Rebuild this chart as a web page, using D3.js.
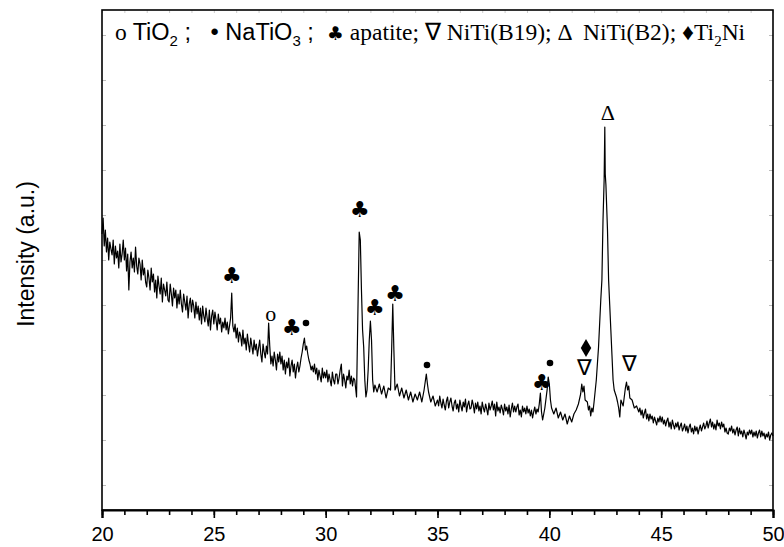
<!DOCTYPE html>
<html>
<head>
<meta charset="utf-8">
<script src="https://cdn.jsdelivr.net/npm/d3@7"></script>
<style>
  body { margin: 0; background: #fff; }
  text { white-space: pre; }
</style>
</head>
<body>
<div id="chart"></div>
<script>
// XRD scan, 2theta (deg) vs intensity (a.u.)
var scanLow = [
  [20.00,296],[20.05,312],[20.10,284],[20.15,300],[20.20,278],[20.25,292],[20.30,270],[20.35,288],[20.40,281],[20.45,275],
  [20.50,290],[20.55,266],[20.60,284],[20.65,272],[20.70,279],[20.75,262],[20.80,286],[20.85,268],[20.90,276],[20.95,290],
  [21.00,270],[21.05,282],[21.10,259],[21.15,276],[21.20,240],[21.25,268],[21.30,278],[21.35,262],[21.40,272],[21.45,258],
  [21.50,283],[21.55,264],[21.60,256],[21.65,272],[21.70,266],[21.75,250],[21.80,270],[21.85,255],[21.90,262],[21.95,248],
  [22.00,243],[22.05,260],[22.10,252],[22.15,240],[22.20,262],[22.25,248],[22.30,256],[22.35,238],[22.40,250],[22.45,232],
  [22.50,254],[22.55,244],[22.60,236],[22.65,252],[22.70,228],[22.75,246],[22.80,240],[22.85,234],[22.90,248],[22.95,230],
  [23.00,228],[23.05,246],[23.10,236],[23.15,224],[23.20,242],[23.25,232],[23.30,240],[23.35,222],[23.40,236],[23.45,226],
  [23.50,240],[23.55,226],[23.60,218],[23.65,236],[23.70,228],[23.75,220],[23.80,234],[23.85,212],[23.90,226],[23.95,232],
  [24.00,218],[24.05,230],[24.10,224],[24.15,212],[24.20,228],[24.25,216],[24.30,224],[24.35,210],[24.40,222],[24.45,206],
  [24.50,224],[24.55,214],[24.60,208],[24.65,222],[24.70,212],[24.75,204],[24.80,220],[24.85,200],[24.90,214],[24.95,220],
  [25.00,206],[25.05,218],[25.10,210],[25.15,200],[25.20,216],[25.25,206],[25.30,212],[25.35,198],[25.40,208],[25.45,202],
  [25.50,212],[25.55,200],[25.60,208],[25.65,196],[25.70,204],[25.75,212],[25.80,237],[25.85,204],[25.90,198],[25.95,206],
  [26.00,192],[26.05,202],[26.10,188],[26.15,198],[26.20,194],[26.25,184],[26.30,200],[26.35,186],[26.40,192],[26.45,180],
  [26.50,196],[26.55,186],[26.60,178],[26.65,192],[26.70,184],[26.75,176],[26.80,190],[26.85,180],[26.90,186],[26.95,174],
  [27.00,182],[27.05,190],[27.10,176],[27.15,168],[27.20,186],[27.25,178],[27.30,172],[27.35,184],[27.40,176],[27.45,207],
  [27.50,184],[27.55,166],[27.60,174],[27.65,164],[27.70,178],[27.75,170],[27.80,160],[27.85,176],[27.90,168],[27.95,178],
  [28.00,166],[28.05,174],[28.10,160],[28.15,170],[28.20,156],[28.25,168],[28.30,162],[28.35,172],[28.40,154],[28.45,164],
  [28.50,170],[28.55,158],[28.60,166],[28.65,152],[28.70,162],[28.75,168],[28.80,158],[28.85,164],[28.90,172],[28.95,178],
  [29.00,186],[29.05,192],[29.10,180],[29.15,184],[29.20,176],[29.25,170],[29.30,166],[29.35,160],[29.40,164],[29.45,158],
  [29.50,166],[29.55,156],[29.60,162],[29.65,150],[29.70,160],[29.75,154],[29.80,148],[29.85,162],[29.90,152],[29.95,158],
  [30.00,152],[30.05,160],[30.10,148],[30.15,156],[30.20,150],[30.25,144],[30.30,158],[30.35,150],[30.40,146],[30.45,156],
  [30.50,156],[30.55,146],[30.60,152],[30.65,160],[30.70,166],[30.75,144],[30.80,156],[30.85,150],[30.90,142],[30.95,154],
  [31.00,150],[31.05,160],[31.10,146],[31.15,154],[31.20,144],[31.25,152],[31.30,150]
];
var scanApatite = [
  [31.38,133],[31.45,230],[31.5,298],[31.55,290],[31.6,240],[31.65,200],[31.7,183],[31.75,150],[31.8,133],[31.85,140],
  [31.9,160],[31.95,190],[32.0,209],[32.05,190],[32.1,150],[32.15,138],[32.2,145],[32.3,138],[32.4,146],[32.5,136],
  [32.6,144],[32.7,132],[32.8,142],[32.9,140],[32.95,180],[33.0,226],[33.05,180],[33.1,140],[33.2,146],[33.3,134],
  [33.4,142],[33.5,132],[33.6,140],[33.7,130],[33.8,138],[33.9,128],[34.0,136]
];
var scanMid = [
  [34.1,130],[34.2,138],[34.3,128],[34.4,140],[34.5,156],[34.55,146],[34.6,138],[34.7,128],[34.8,134],[34.9,124],
  [35.00,130],[35.05,124],[35.10,134],[35.15,127],[35.20,122],[35.25,131],[35.30,125],[35.35,120],[35.40,129],[35.45,133],
  [35.50,122],[35.55,128],[35.60,132],[35.65,124],[35.70,119],[35.75,127],[35.80,130],[35.85,121],[35.90,126],[35.95,118],
  [36.00,130],[36.05,124],[36.10,119],[36.15,128],[36.20,123],[36.25,131],[36.30,118],[36.35,125],[36.40,129],[36.45,121],
  [36.50,122],[36.55,130],[36.60,125],[36.65,117],[36.70,127],[36.75,121],[36.80,128],[36.85,119],[36.90,124],[36.95,116],
  [37.00,128],[37.05,122],[37.10,118],[37.15,126],[37.20,121],[37.25,115],[37.30,127],[37.35,120],[37.40,124],[37.45,129],
  [37.50,120],[37.55,126],[37.60,114],[37.65,128],[37.70,119],[37.75,123],[37.80,117],[37.85,125],[37.90,121],[37.95,115],
  [38.00,126],[38.05,119],[38.10,123],[38.15,116],[38.20,125],[38.25,113],[38.30,121],[38.35,127],[38.40,118],[38.45,124],
  [38.50,118],[38.55,123],[38.60,126],[38.65,115],[38.70,120],[38.75,113],[38.80,124],[38.85,118],[38.90,122],[38.95,116],
  [39.00,124],[39.05,117],[39.10,121],[39.15,114],[39.20,120],[39.25,112],[39.30,118],[39.35,123],[39.40,116],[39.45,121],
  [39.5,118],[39.55,126],[39.6,137],[39.65,118],[39.7,110],
  [39.8,122],[39.9,140],[39.95,153],[40.0,146],[40.05,130],[40.1,122],[40.2,116],[40.3,122],[40.4,112],[40.5,118],
  [40.6,110],[40.7,116],[40.8,106],[40.9,114],[41.0,108],[41.1,116],[41.2,120],[41.3,126],[41.4,136],[41.45,146],
  [41.5,138],[41.55,144],[41.6,130],[41.7,128],[41.75,120],[41.8,124],[41.85,114],[41.9,122],[41.95,118]
];
var scanNiTi = [
  [42.0,128],[42.1,150],[42.2,183],[42.3,230],[42.35,250],[42.4,310],[42.45,350],[42.48,403],[42.5,356],[42.53,345],
  [42.6,300],[42.65,250],[42.7,225],[42.75,200],[42.8,175],[42.85,150],[42.9,140],[43.0,133],[43.05,128],[43.1,122],
  [43.15,113],[43.2,130],[43.3,124],[43.4,142],[43.45,148],[43.5,140],[43.55,144],[43.6,132],[43.7,130],[43.8,122],
  [43.9,124]
];
var scanHigh = [
  [44.00,118],[44.05,122],[44.10,115],[44.15,120],[44.20,112],[44.25,117],[44.30,121],[44.35,111],[44.40,116],[44.45,109],
  [44.50,116],[44.55,111],[44.60,114],[44.65,107],[44.70,113],[44.75,109],[44.80,105],[44.85,112],[44.90,108],[44.95,114],
  [45.00,108],[45.05,113],[45.10,106],[45.15,110],[45.20,104],[45.25,109],[45.30,112],[45.35,103],[45.40,108],[45.45,101],
  [45.50,110],[45.55,105],[45.60,101],[45.65,107],[45.70,103],[45.75,108],[45.80,100],[45.85,104],[45.90,107],[45.95,99],
  [46.00,102],[46.05,106],[46.10,99],[46.15,104],[46.20,97],[46.25,103],[46.30,106],[46.35,98],[46.40,102],[46.45,96],
  [46.50,104],[46.55,99],[46.60,103],[46.65,96],[46.70,101],[46.75,105],[46.80,99],[46.85,103],[46.90,107],[46.95,101],
  [47.00,104],[47.05,109],[47.10,102],[47.15,107],[47.20,111],[47.25,103],[47.30,108],[47.35,101],[47.40,106],[47.45,100],
  [47.50,110],[47.55,104],[47.60,107],[47.65,101],[47.70,108],[47.75,103],[47.80,106],[47.85,98],[47.90,102],[47.95,97],
  [48.00,96],[48.05,102],[48.10,99],[48.15,104],[48.20,97],[48.25,101],[48.30,95],[48.35,100],[48.40,103],[48.45,94],
  [48.50,102],[48.55,96],[48.60,99],[48.65,93],[48.70,100],[48.75,96],[48.80,91],[48.85,98],[48.90,95],[48.95,100],
  [49.00,96],[49.05,100],[49.10,93],[49.15,98],[49.20,94],[49.25,99],[49.30,92],[49.35,97],[49.40,100],[49.45,93],
  [49.50,99],[49.55,94],[49.60,97],[49.65,91],[49.70,96],[49.75,93],[49.80,98],[49.85,90],[49.90,95],[49.95,97],
  [50.00,94]
];

// phase marks above the peaks
var markSymbols   = ["club","o","club","dot","club","club","club","dot","club","dot","nabla","diamond","delta","nabla"];
var markTheta     = [25.81, 27.55, 28.49, 29.12, 31.53, 32.20, 33.10, 34.53, 39.67, 40.03, 41.55, 41.64, 42.62, 43.60];
var markIntensity = [255, 217, 203, 207, 321, 223, 237, 165, 148, 167, 163, 182, 418, 167];

var xTicks = [20, 25, 30, 35, 40, 45, 50];
var xMinor = d3.range(20, 51, 1);
var yTicks = d3.range(45, 520, 45);

var scan = scanLow.concat(scanApatite, scanMid, scanNiTi, scanHigh);

var width = 784, height = 547;
var mLeft = 102, mRight = 773, mTop = 10, mBottom = 510;

var svg = d3.select("#chart").append("svg")
  .attr("width", width)
  .attr("height", height);

var x = d3.scaleLinear().domain([20, 50]).range([mLeft, mRight]);
var y = d3.scaleLinear().domain([20, 520]).range([mBottom, mTop]);

// faint y ticks on both sides and minor top ticks
svg.append("g")
  .attr("transform", "translate(" + mLeft + ",0)")
  .call(d3.axisLeft(y).tickValues(yTicks).tickSize(-4).tickFormat(""))
  .call(g => g.select(".domain").remove())
  .selectAll("line").attr("stroke", "#bbb");
svg.append("g")
  .attr("transform", "translate(" + mRight + ",0)")
  .call(d3.axisRight(y).tickValues(yTicks).tickSize(-4).tickFormat(""))
  .call(g => g.select(".domain").remove())
  .selectAll("line").attr("stroke", "#bbb");
svg.append("g")
  .attr("transform", "translate(0," + mTop + ")")
  .call(d3.axisTop(x).tickValues(xMinor).tickSize(-3).tickFormat(""))
  .call(g => g.select(".domain").remove())
  .selectAll("line").attr("stroke", "#ccc");

// frame
svg.append("rect")
  .attr("x", mLeft).attr("y", mTop)
  .attr("width", mRight - mLeft).attr("height", mBottom - mTop)
  .attr("fill", "none").attr("stroke", "#000").attr("stroke-width", 1.6);

// bottom axis
svg.append("g")
  .attr("transform", "translate(0," + mBottom + ")")
  .call(d3.axisBottom(x).tickValues(xMinor).tickSize(5).tickFormat(""))
  .call(g => g.select(".domain").remove())
  .selectAll("line").attr("stroke-width", 1.6);

var xAxis = svg.append("g")
  .attr("transform", "translate(0," + mBottom + ")")
  .call(d3.axisBottom(x).tickValues(xTicks).tickSize(8).tickPadding(9).tickFormat(d3.format("d")));
xAxis.select(".domain").attr("stroke-width", 2.2);
xAxis.selectAll("line").attr("stroke-width", 1.6);
xAxis.selectAll("text")
  .attr("font-family", "Liberation Sans, Arial, sans-serif")
  .attr("font-size", 20)
  .attr("fill", "#000");

// y title
svg.append("text")
  .attr("transform", "translate(34,254) rotate(-90)")
  .attr("text-anchor", "middle")
  .attr("font-family", "Liberation Sans, Arial, sans-serif")
  .attr("font-size", 23)
  .text("Intensity (a.u.)");

// pattern
var line = d3.line()
  .x(d => x(d[0]))
  .y(d => y(d[1]));

svg.append("path")
  .datum(scan)
  .attr("d", line)
  .attr("fill", "none")
  .attr("stroke", "#000")
  .attr("stroke-width", 1.2)
  .attr("stroke-linejoin", "round");

// markers
var marks = markSymbols.map((s, i) => ({ s: s, x: x(markTheta[i]), y: y(markIntensity[i]) }));
var mg = svg.append("g");
marks.forEach(function(m) {
  if (m.s == "dot") {
    mg.append("circle").attr("cx", m.x).attr("cy", m.y).attr("r", 3.3).attr("fill", "#000");
  } else if (m.s == "diamond") {
    mg.append("path")
      .attr("d", d3.symbol(d3.symbolDiamond, 95)())
      .attr("transform", "translate(" + m.x + "," + m.y + ")")
      .attr("fill", "#000");
  } else {
    var ch = { club: "\u2663", o: "o", nabla: "\u2207", delta: "\u0394" }[m.s];
    mg.append("text")
      .attr("x", m.x).attr("y", m.y)
      .attr("text-anchor", "middle")
      .attr("dominant-baseline", "central")
      .attr("font-family", m.s == "club" ? "DejaVu Sans" : "Liberation Serif, Times New Roman, serif")
      .attr("font-size", 22)
      .text(ch);
  }
});

// legend line at top
var serif = "Liberation Serif, Times New Roman, serif";
var sans = "Liberation Sans, Arial, sans-serif";
var legend = svg.append("text")
  .attr("x", 115).attr("y", 40)
  .attr("font-size", 23.5);
var parts = [
  ["o ", serif, 0], ["TiO", sans, 0], ["2", sans, 1], [" ;   \u2022 NaTiO", sans, 0], ["3", sans, 1], [" ;  ", sans, 0],
  ["\u2663", "DejaVu Sans", 0], [" apatite; \u2207 NiTi(B19); \u0394  NiTi(B2); \u2666Ti", serif, 0], ["2", serif, 1], ["Ni", serif, 0]
];
var sub = 0;
parts.forEach(function(p) {
  var t = legend.append("tspan").attr("font-family", p[1]).text(p[0]);
  if (p[0] == "\u2663") t.attr("font-size", 19);
  if (p[2] && !sub) { t.attr("dy", 6).attr("font-size", 15); sub = 1; }
  else if (p[2]) { t.attr("font-size", 15); }
  else if (sub) { t.attr("dy", -6); sub = 0; }
});
</script>
</body>
</html>
